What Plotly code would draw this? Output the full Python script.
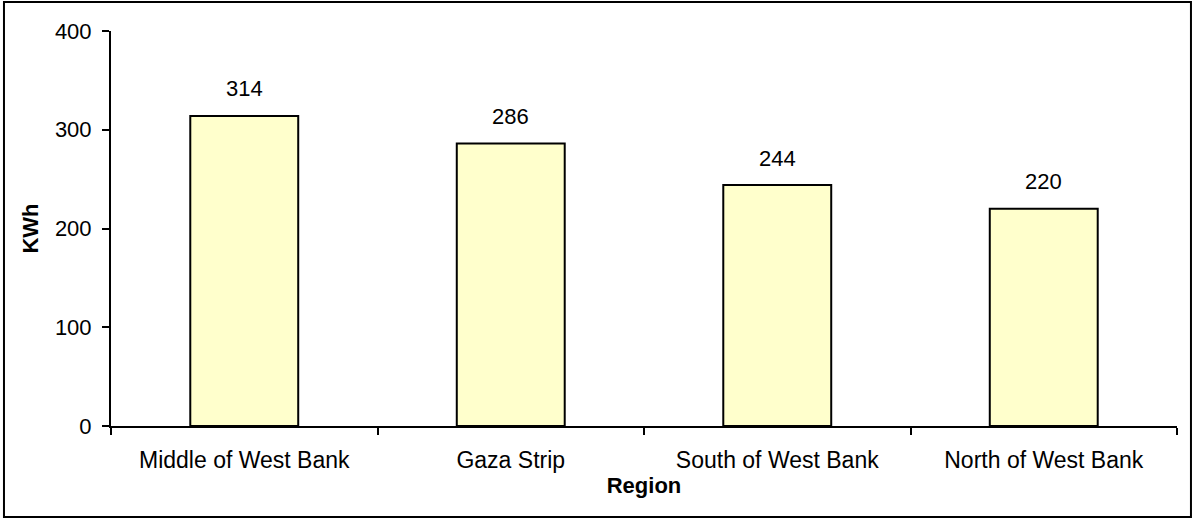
import plotly.graph_objects as go

regions = ["Middle of West Bank", "Gaza Strip", "South of West Bank", "North of West Bank"]
kwh = [314, 286, 244, 220]
y_ticks = [0, 100, 200, 300, 400]

FONT = "Liberation Sans, Arial, sans-serif"

fig = go.Figure()
fig.add_trace(go.Bar(
    x=regions, y=kwh,
    marker=dict(color="#FFFFCC", line=dict(color="black", width=2)),
    width=0.405,
    hoverinfo="skip",
))

for r, v in zip(regions, kwh):
    fig.add_annotation(x=r, y=v, text=str(v), showarrow=False, yshift=27,
                       font=dict(family=FONT, size=22, color="black"))

fig.update_layout(
    width=1196, height=519,
    margin=dict(l=111, r=19, t=31, b=93),
    plot_bgcolor="white", paper_bgcolor="white",
    showlegend=False,
    font=dict(family=FONT, size=22, color="black"),
)
fig.update_xaxes(
    type="category", tickson="boundaries", ticks="outside", ticklen=7, tickwidth=2,
    tickcolor="black", showline=True, linecolor="black", linewidth=2,
    showgrid=False, ticklabelstandoff=12, tickfont=dict(size=23),
    title=dict(text="<b>Region</b>", standoff=2, font=dict(size=22)),
)
fig.update_yaxes(
    range=[0, 400], tickvals=y_ticks, ticks="outside", ticklen=7, tickwidth=2,
    tickcolor="black", showline=True, linecolor="black", linewidth=2,
    showgrid=False, zeroline=False, ticklabelstandoff=6,
    title=dict(text="<b>KWh</b>", standoff=10, font=dict(size=22)),
)
fig.add_shape(type="rect", xref="paper", yref="paper",
              x0=-0.1004, x1=1.0131, y0=-0.2304, y1=1.0734,
              line=dict(color="black", width=2), fillcolor="rgba(0,0,0,0)", layer="below")

fig.write_html("out.html", config={"displayModeBar": False},
               post_script="document.body.style.margin='0';document.body.style.overflow='hidden';")
